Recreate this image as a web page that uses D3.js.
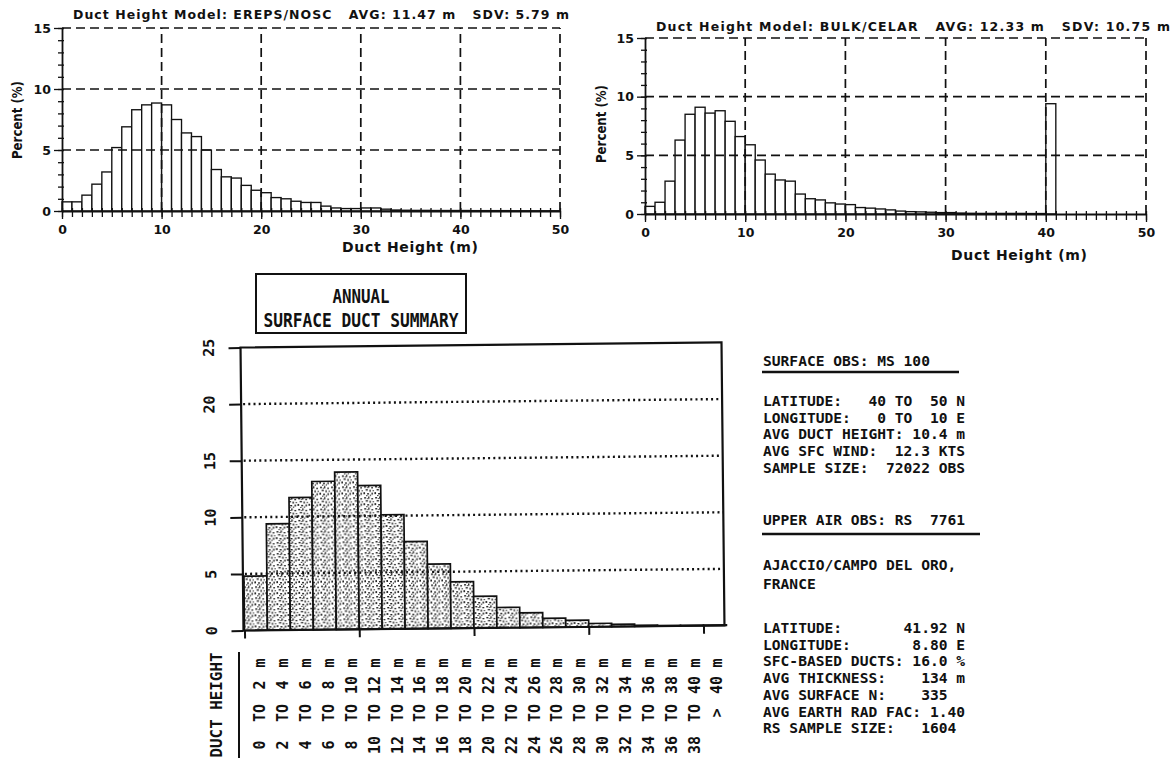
<!DOCTYPE html>
<html>
<head>
<meta charset="utf-8">
<script src="https://cdn.jsdelivr.net/npm/d3@7"></script>
<style>
  html, body { margin: 0; padding: 0; background: #fff; }
  svg { display: block; }
  text { fill: #111; }
</style>
</head>
<body>
<svg id="chart" width="1176" height="761"></svg>
<script>
/* ── Data ────────────────────────────────────────────────────────────── */
// 1 m bins, 0..50 m (bin start values)
const HIST_BINS = d3.range(0, 50);

// percent of obs per 1 m bin, EREPS/NOSC model
const EREPS_PCT = [
  0.75, 0.75, 1.3, 2.2, 3.2, 5.2, 6.9, 8.3, 8.7, 8.85,
  8.7, 7.5, 6.4, 6.1, 5.0, 3.4, 2.8, 2.7, 2.1, 1.7,
  1.5, 1.1, 1.0, 0.8, 0.7, 0.7, 0.4, 0.25, 0.2, 0.2,
  0.25, 0.25, 0.15, 0.08, 0.06, 0.05, 0.05, 0.04, 0.04, 0.04,
  0.04, 0.03, 0.03, 0.03, 0.03, 0.02, 0.02, 0.02, 0.02, 0.02
];

// percent of obs per 1 m bin, BULK/CELAR model (40 m = capped ducts)
const BULK_PCT = [
  0.65, 1.0, 2.8, 6.3, 8.5, 9.1, 8.6, 8.8, 7.9, 6.6,
  5.9, 4.6, 3.4, 2.9, 2.8, 1.7, 1.3, 1.2, 0.95, 0.85,
  0.8, 0.55, 0.5, 0.43, 0.35, 0.25, 0.2, 0.18, 0.15, 0.12,
  0.12, 0.08, 0.06, 0.05, 0.05, 0.05, 0.05, 0.05, 0.04, 0.04,
  9.4, 0, 0, 0, 0, 0, 0, 0, 0, 0
];

const HIST_TITLES = [
  'Duct Height Model: EREPS/NOSC   AVG: 11.47 m   SDV: 5.79 m',
  'Duct Height Model: BULK/CELAR   AVG: 12.33 m   SDV: 10.75 m'
];
const HIST_Y_TICKS = [0, 5, 10, 15];
const HIST_X_TICKS = [0, 10, 20, 30, 40, 50];

// annual surface duct summary, 2 m classes
const SUMMARY_BINS = [
  '0 TO 2', '2 TO 4', '4 TO 6', '6 TO 8', '8 TO 10', '10 TO 12', '12 TO 14',
  '14 TO 16', '16 TO 18', '18 TO 20', '20 TO 22', '22 TO 24', '24 TO 26',
  '26 TO 28', '28 TO 30', '30 TO 32', '32 TO 34', '34 TO 36', '36 TO 38',
  '38 TO 40', '> 40'
];
const SUMMARY_PCT = [
  4.8, 9.4, 11.7, 13.1, 13.9, 12.7, 10.1, 7.7, 5.7, 4.1,
  2.8, 1.8, 1.3, 0.8, 0.6, 0.3, 0.2, 0.1, 0.05, 0.05, 0.05
];
const SUMMARY_Y_TICKS = [0, 5, 10, 15, 20, 25];
const SUMMARY_GRID = [5, 10, 15, 20];
const SUMMARY_X_TICKS = [0, 10, 20, 30, 40];
const SUMMARY_TITLE = ['ANNUAL', 'SURFACE DUCT SUMMARY'];

const SURFACE_HEADER = 'SURFACE OBS: MS 100';
const SURFACE_LINES = [
  'LATITUDE:   40 TO  50 N',
  'LONGITUDE:   0 TO  10 E',
  'AVG DUCT HEIGHT: 10.4 m',
  'AVG SFC WIND:  12.3 KTS',
  'SAMPLE SIZE:  72022 OBS'
];
const UPPER_HEADER = 'UPPER AIR OBS: RS  7761';
const STATION_LINES = ['AJACCIO/CAMPO DEL ORO,', 'FRANCE'];
const RAOB_LINES = [
  'LATITUDE:       41.92 N',
  'LONGITUDE:       8.80 E',
  'SFC-BASED DUCTS: 16.0 %',
  'AVG THICKNESS:    134 m',
  'AVG SURFACE N:    335',
  'AVG EARTH RAD FAC: 1.40',
  'RS SAMPLE SIZE:   1604'
];

/* ── Styles ──────────────────────────────────────────────────────────── */
const INK       = '#111';
const SANS      = '"DejaVu Sans", Verdana, sans-serif';
const MONO      = '"DejaVu Sans Mono", "Liberation Mono", monospace';
const MONO_SIZE = 14.6;

const svg = d3.select('#chart');
const defs = svg.append('defs');

// stipple fill for the summary bars
const stip = defs.append('pattern')
  .attr('id', 'stipple')
  .attr('patternUnits', 'userSpaceOnUse')
  .attr('width', 11).attr('height', 11);
stip.append('rect').attr('width', 11).attr('height', 11).attr('fill', '#fff');
[[1,1,2,1.4],[5,0.4,1.4,2.2],[8.2,2,1.8,1.3],[2.6,4,2.2,1.4],[6.4,4.6,1.4,2],
 [0.4,7,1.6,2],[4,8,2,1.4],[8.4,7.6,1.5,1.9],[9.6,5,1.2,1.2],[3,10,1.4,1],
 [6.8,9.6,1.2,1.2],[3.8,2,1,1]]
  .forEach(([x, y, w, h]) => stip.append('rect')
    .attr('x', x).attr('y', y).attr('width', w).attr('height', h)
    .attr('fill', '#222'));

/* ── Top histograms ──────────────────────────────────────────────────── */
function styleAxis(g, fontSize) {
  g.attr('font-family', SANS).attr('font-size', fontSize).attr('font-weight', 'bold');
  g.selectAll('.tick line').attr('stroke', INK).attr('stroke-width', 1.3);
  g.selectAll('.tick text').attr('fill', INK);
  g.select('.domain').attr('stroke', INK).attr('stroke-width', 1.8);
}

function drawHist(o) {
  const x = d3.scaleLinear().domain([0, 50]).range([o.left, o.right]);
  const y = d3.scaleLinear().domain([0, 15]).range([o.bottom, o.top]);
  const g = svg.append('g');

  // bars
  g.selectAll('rect.bar')
    .data(o.values)
    .join('rect')
    .attr('class', 'bar')
    .attr('x', (d, i) => x(HIST_BINS[i]))
    .attr('y', d => y(d))
    .attr('width', x(1) - x(0))
    .attr('height', d => y(0) - y(d))
    .attr('fill', '#fff')
    .attr('stroke', INK)
    .attr('stroke-width', 1.35);

  // dashed grid (incl. top and right frame)
  g.selectAll('line.hgrid')
    .data(HIST_Y_TICKS.slice(1))
    .join('line')
    .attr('x1', x(0)).attr('x2', x(50))
    .attr('y1', d => y(d)).attr('y2', d => y(d))
    .attr('stroke', INK).attr('stroke-width', 1.7)
    .attr('stroke-dasharray', '9,5');

  g.selectAll('line.vgrid')
    .data(HIST_X_TICKS.slice(1))
    .join('line')
    .attr('x1', d => x(d)).attr('x2', d => x(d))
    .attr('y1', y(0)).attr('y2', y(15))
    .attr('stroke', INK).attr('stroke-width', 1.7)
    .attr('stroke-dasharray', '9,5');

  // x axis: minor ticks each metre, both sides of the line
  const xAx = g.append('g').attr('transform', `translate(0,${y(0)})`);
  xAx.append('g')
    .call(d3.axisBottom(x).tickValues(d3.range(0, 51)).tickSize(6).tickSizeOuter(0).tickFormat(''))
    .call(a => styleAxis(a, 12));
  xAx.append('g')
    .call(d3.axisTop(x).tickValues(d3.range(0, 51)).tickSize(3).tickSizeOuter(0).tickFormat(''))
    .call(a => { styleAxis(a, 12); a.select('.domain').remove(); });
  xAx.append('g')
    .call(d3.axisBottom(x).tickValues(HIST_X_TICKS).tickSize(8).tickSizeOuter(0).tickPadding(6))
    .call(a => { styleAxis(a, 12.5); a.select('.domain').remove(); });

  // y axis: minor ticks each percent
  const yAx = g.append('g').attr('transform', `translate(${x(0)},0)`);
  yAx.append('g')
    .call(d3.axisLeft(y).tickValues(d3.range(0, 16)).tickSize(4).tickSizeOuter(0).tickFormat(''))
    .call(a => styleAxis(a, 12));
  yAx.append('g')
    .call(d3.axisRight(y).tickValues(d3.range(0, 16)).tickSize(2).tickSizeOuter(0).tickFormat(''))
    .call(a => { styleAxis(a, 12); a.select('.domain').remove(); });
  yAx.append('g')
    .call(d3.axisLeft(y).tickValues(HIST_Y_TICKS).tickSize(8).tickSizeOuter(0).tickPadding(3))
    .call(a => { styleAxis(a, 12.5); a.select('.domain').remove(); });

  // labels
  g.append('text')
    .attr('x', o.titleX).attr('y', o.titleY)
    .attr('textLength', o.titleW).attr('lengthAdjust', 'spacing')
    .attr('xml:space', 'preserve')
    .attr('font-family', SANS).attr('font-size', 12.5).attr('font-weight', 'bold')
    .text(o.title);

  g.append('text')
    .attr('x', o.xLabel[0]).attr('y', o.xLabel[1])
    .attr('text-anchor', 'middle')
    .attr('textLength', 136).attr('lengthAdjust', 'spacing')
    .attr('font-family', SANS).attr('font-size', 14).attr('font-weight', 'bold')
    .text('Duct Height (m)');

  g.append('text')
    .attr('transform', `translate(${o.yLabel[0]},${o.yLabel[1]}) rotate(-90)`)
    .attr('text-anchor', 'middle')
    .attr('textLength', 78).attr('lengthAdjust', 'spacingAndGlyphs')
    .attr('font-family', SANS).attr('font-size', 14).attr('font-weight', 'bold')
    .text('Percent (%)');
}

drawHist({
  values: EREPS_PCT, title: HIST_TITLES[0],
  left: 62, right: 560, top: 28, bottom: 211,
  titleX: 73, titleY: 19, titleW: 496,
  xLabel: [410, 252], yLabel: [22, 120]
});
drawHist({
  values: BULK_PCT, title: HIST_TITLES[1],
  left: 645, right: 1146, top: 38, bottom: 214,
  titleX: 656, titleY: 31, titleW: 514,
  xLabel: [1019, 260], yLabel: [606, 124]
});

/* ── Annual surface duct summary ─────────────────────────────────────── */
const BOX_L = 242, BOX_R = 723;
const sx = d3.scaleLinear().domain([0, 40]).range([243, 702]);
const sy = d3.scaleLinear().domain([0, 25]).range([628, 345]);

// the scanned page is slightly rotated
const sg = svg.append('g').attr('transform', 'rotate(-0.6,482,487)');

sg.selectAll('rect.sbar')
  .data(SUMMARY_PCT)
  .join('rect')
  .attr('class', 'sbar')
  .attr('x', (d, i) => sx(i * 2))
  .attr('y', d => sy(d))
  .attr('width', sx(2) - sx(0))
  .attr('height', d => sy(0) - sy(d))
  .attr('fill', 'url(#stipple)')
  .attr('stroke', INK)
  .attr('stroke-width', 1.7);

sg.selectAll('line.sgrid')
  .data(SUMMARY_GRID)
  .join('line')
  .attr('x1', BOX_L + 2).attr('x2', BOX_R)
  .attr('y1', d => sy(d)).attr('y2', d => sy(d))
  .attr('stroke', INK).attr('stroke-width', 2.4)
  .attr('stroke-dasharray', '2,3.2');

sg.append('rect')
  .attr('x', BOX_L).attr('y', sy(25))
  .attr('width', BOX_R - BOX_L).attr('height', sy(0) - sy(25))
  .attr('fill', 'none').attr('stroke', INK).attr('stroke-width', 2.2);

sg.append('g')
  .attr('transform', `translate(${BOX_L},0)`)
  .call(d3.axisLeft(sy).tickValues(SUMMARY_Y_TICKS).tickSize(12).tickSizeOuter(0).tickFormat(''))
  .call(a => { a.select('.domain').remove(); a.selectAll('line').attr('stroke', INK).attr('stroke-width', 2); });

sg.append('g')
  .attr('transform', `translate(0,${sy(0)})`)
  .call(d3.axisBottom(sx).tickValues(SUMMARY_X_TICKS).tickSize(8).tickSizeOuter(0).tickFormat(''))
  .call(a => { a.select('.domain').remove(); a.selectAll('line').attr('stroke', INK).attr('stroke-width', 2); });

sg.selectAll('text.ylab')
  .data(SUMMARY_Y_TICKS)
  .join('text')
  .attr('class', 'ylab')
  .attr('transform', d => `translate(210,${sy(d)}) rotate(-90)`)
  .attr('text-anchor', 'middle')
  .attr('dy', '0.36em')
  .attr('font-family', MONO).attr('font-size', 15).attr('font-weight', 'bold')
  .text(d => d);

// title box
svg.append('rect')
  .attr('x', 256).attr('y', 274).attr('width', 210).attr('height', 59)
  .attr('fill', 'none').attr('stroke', INK).attr('stroke-width', 2);
svg.append('text')
  .attr('x', 361).attr('y', 303).attr('text-anchor', 'middle')
  .attr('textLength', 57).attr('lengthAdjust', 'spacingAndGlyphs')
  .attr('font-family', MONO).attr('font-size', 19).attr('font-weight', 'bold')
  .text(SUMMARY_TITLE[0]);
svg.append('text')
  .attr('x', 361).attr('y', 327).attr('text-anchor', 'middle')
  .attr('textLength', 195).attr('lengthAdjust', 'spacingAndGlyphs')
  .attr('font-family', MONO).attr('font-size', 19).attr('font-weight', 'bold')
  .attr('xml:space', 'preserve')
  .text(SUMMARY_TITLE[1]);

// duct height class labels (vertical)
const lx = d3.scalePoint().domain(SUMMARY_BINS).range([260, 717]);
const ROW_Y = { unit: 663, hi: 685, to: 713, lo: 745 };

function binParts(label) {
  if (label.startsWith('>')) return { lo: '', to: '>', hi: label.slice(1).trim() };
  const [lo, hi] = label.split(' TO ');
  return { lo, to: 'TO', hi };
}

const labG = svg.append('g')
  .attr('font-family', MONO).attr('font-size', 15).attr('font-weight', 'bold');

SUMMARY_BINS.forEach(b => {
  const p = binParts(b);
  [['unit', 'm'], ['hi', p.hi], ['to', p.to], ['lo', p.lo]].forEach(([row, txt]) => {
    if (!txt) return;
    labG.append('text')
      .attr('transform', `translate(${lx(b)},${ROW_Y[row]}) rotate(-90)`)
      .attr('text-anchor', 'middle')
      .attr('dy', '0.36em')
      .text(txt);
  });
});

labG.append('text')
  .attr('transform', 'translate(217,705) rotate(-90)')
  .attr('text-anchor', 'middle').attr('dy', '0.36em')
  .attr('textLength', 105).attr('lengthAdjust', 'spacingAndGlyphs')
  .text('DUCT HEIGHT');

svg.append('line')
  .attr('x1', 239).attr('x2', 239).attr('y1', 652).attr('y2', 758)
  .attr('stroke', INK).attr('stroke-width', 2);

/* ── Station info panel ──────────────────────────────────────────────── */
const INFO_X = 763, LINE_H = 16.7;
const info = svg.append('g')
  .attr('font-family', MONO).attr('font-size', MONO_SIZE).attr('font-weight', 'bold');

function infoBlock(lines, y0, step) {
  lines.forEach((t, i) => info.append('text')
    .attr('x', INFO_X).attr('y', y0 + i * step)
    .attr('xml:space', 'preserve')
    .text(t));
}

infoBlock([SURFACE_HEADER], 366, LINE_H);
info.append('line').attr('x1', 762).attr('x2', 959).attr('y1', 372).attr('y2', 372)
  .attr('stroke', INK).attr('stroke-width', 2.4);
infoBlock(SURFACE_LINES, 406, LINE_H);
infoBlock([UPPER_HEADER], 525, LINE_H);
info.append('line').attr('x1', 762).attr('x2', 980).attr('y1', 534).attr('y2', 534)
  .attr('stroke', INK).attr('stroke-width', 2.4);
infoBlock(STATION_LINES, 570, 19);
infoBlock(RAOB_LINES, 633, LINE_H);
</script>
</body>
</html>
